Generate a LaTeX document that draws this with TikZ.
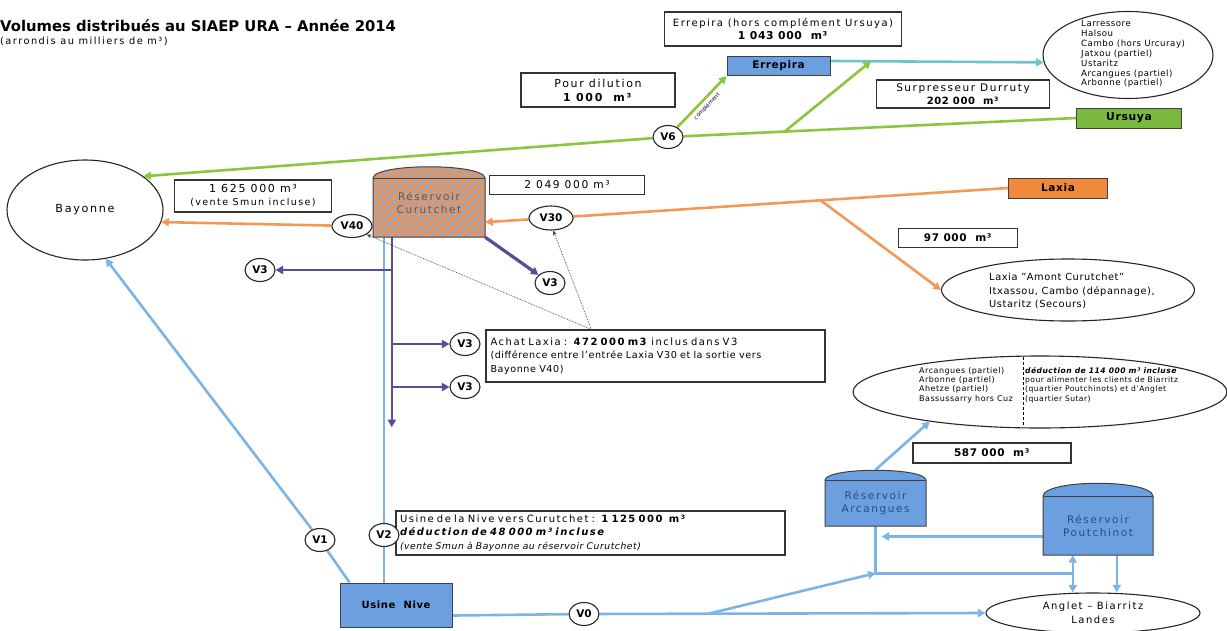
\documentclass[tikz,border=0pt]{standalone}
\usepackage{fontspec}
\setmainfont{DejaVu Sans}[LetterSpace=6]
\newfontfamily\titlefont{DejaVu Sans}
\newfontfamily\wide{DejaVu Sans}[LetterSpace=15]
\usetikzlibrary{shapes.geometric,arrows.meta,backgrounds,calc}
\definecolor{lb}{HTML}{7DB4E6}
\definecolor{fb}{HTML}{6B9FE0}
\definecolor{gr}{HTML}{8CC63F}
\definecolor{grf}{HTML}{7AB840}
\definecolor{tl}{HTML}{70C4C8}
\definecolor{orl}{HTML}{F29A55}
\definecolor{orf}{HTML}{F08A3A}
\definecolor{pu}{HTML}{5B4B9E}
\definecolor{hor}{HTML}{EC9458}
\definecolor{hbl}{HTML}{94A9C6}
\definecolor{rtxt}{HTML}{2F4A7A}
\begin{document}
\begin{tikzpicture}[x=1pt,y=-1pt,
  tip/.style={-{Triangle[length=7.5pt,width=8pt]}},
  conn/.style={line width=2.6pt},
  gconn/.style={conn,draw=gr},
  tconn/.style={conn,draw=tl},
  oconn/.style={conn,draw=orl},
  bconn/.style={conn,draw=lb},
  pconn/.style={conn,draw=pu},
  dotconn/.style={densely dotted,line width=0.7pt,draw=black!75,-{Stealth[length=5pt,width=4pt]}},
  lbox/.style={draw=black!80,line width=1.1pt,fill=white,align=center,inner sep=1pt},
  fnode/.style={draw=black!75,line width=1pt,inner sep=0pt,minimum height=19pt},
  ell/.style={ellipse,draw=black!85,line width=1.1pt,fill=white,inner sep=0pt},
  vtag/.style={ellipse,draw=black!85,line width=1.1pt,fill=white,inner sep=0pt,minimum width=30pt,minimum height=23pt,font=\titlefont\bfseries\fontsize{10.5}{12}\selectfont},
  tank/.style={draw=black!75,line width=1pt,fill=fb},
  rtext/.style={align=center,text=rtxt,font=\wide\fontsize{10.5}{13}\selectfont}
]
\useasboundingbox (0,0) rectangle (1227,630);
\begin{scope}[on background layer]\fill[white] (0,0) rectangle (1227,630);\end{scope}

% titles
\node[anchor=base west,inner sep=0,font=\titlefont\bfseries\fontsize{14.8}{17}\selectfont] (title) at (0,31) {Volumes distribués au SIAEP URA – Année 2014};
\node[anchor=base west,inner sep=0,font=\wide\fontsize{9.8}{11}\selectfont] (subtitle) at (0,44) {(arrondis au milliers de m³)};

% label boxes
\node[lbox,minimum width=237pt,minimum height=34pt,font=\fontsize{10}{13}\selectfont] (errlab) at (783,29) {{\wide Errepira (hors complément Ursuya)}\\{\fontsize{10.8}{13}\selectfont\textbf{1 043 000~~m³}}};
\node[lbox,minimum width=154pt,minimum height=34pt,font=\wide\fontsize{11}{14}\selectfont] (dilution) at (598,90) {Pour dilution\\\textbf{1 000~~m³}};
\node[lbox,minimum width=173pt,minimum height=28pt,font=\wide\fontsize{10.5}{12.5}\selectfont] (durruty) at (963,94) {Surpresseur Durruty\\{\normalfont\fontsize{10}{12}\selectfont\textbf{202 000~~m³}}};
\node[lbox,minimum width=157pt,minimum height=32pt,font=\wide\fontsize{11}{13}\selectfont] (baylab) at (253,196) {1 625 000 m³\\{\fontsize{9.5}{11}\selectfont(vente Smun incluse)}};
\node[lbox,minimum width=155pt,minimum height=19pt,font=\wide\fontsize{10.7}{12}\selectfont] (curlab) at (567,185) {2 049 000 m³};
\node[lbox,minimum width=119pt,minimum height=19pt,font=\fontsize{10.5}{12}\selectfont] (laxlab) at (958,238) {\textbf{97 000~~m³}};
\node[lbox,minimum width=158pt,minimum height=20pt,font=\fontsize{10.5}{12}\selectfont] (arclab) at (992,453) {\textbf{587 000~~m³}};
\node[lbox,minimum width=339pt,minimum height=52pt,text width=330pt,align=left,font=\fontsize{9.6}{13.5}\selectfont] (achat) at (655.5,356) {{\wide\fontsize{10}{13.5}\selectfont Achat Laxia : \textbf{472 000 m3} inclus dans V3}\\(différence entre l’entrée Laxia V30 et la sortie vers\\Bayonne V40)};
\node[lbox,minimum width=389pt,minimum height=44pt,text width=381pt,align=left,font=\fontsize{9.6}{13.2}\selectfont] (usinelab) at (590.5,533) {{\wide\fontsize{10}{13.2}\selectfont Usine de la Nive vers Curutchet : \textbf{1 125 000~~m³}}\\{\wide\fontsize{10}{13.2}\selectfont\textbf{\textit{déduction de 48 000 m³ incluse}}}\\{\fontsize{9.2}{11}\selectfont\textit{(vente Smun à Bayonne au réservoir Curutchet)}}};

% filled nodes
\node[fnode,fill=fb,minimum width=103pt,font=\bfseries\fontsize{10.5}{12}\selectfont] (errepira) at (778.5,66) {Errepira};
\node[fnode,fill=grf,minimum width=105pt,minimum height=20pt,font=\bfseries\fontsize{10.8}{12}\selectfont] (ursuya) at (1129,118) {Ursuya};
\node[fnode,fill=orf,minimum width=99pt,minimum height=20pt,font=\bfseries\fontsize{10.5}{12}\selectfont] (laxia) at (1058,188) {Laxia};
\node[fnode,fill=fb,minimum width=112pt,minimum height=44pt,font=\bfseries\fontsize{10}{12}\selectfont] (usine) at (396,605) {Usine~~Nive};

% reservoir Curutchet (hatched)
\begin{scope}
  \clip (373,237) -- (373,178) .. controls (375,163) and (483,163) .. (485,178) -- (485,237) -- cycle;
  \fill[hor] (365,155) rectangle (495,245);
  \foreach \i in {0,...,30} \draw[hbl,line width=2.3pt] (260+\i*9,245) -- ++(95,-95);
\end{scope}
\draw[line width=1pt,draw=black!75] (373,237) -- (373,178) .. controls (375,163) and (483,163) .. (485,178) -- (485,237) -- cycle;
\draw[line width=1pt,draw=black!75] (373,178) -- (485,178);
\node[minimum width=112pt,minimum height=59pt,inner sep=0] (cur) at (429,207.5) {};
\node[align=center,text=black!65,font=\wide\fontsize{10.5}{13}\selectfont] (curtxt) at (429,203) {Réservoir\\Curutchet};

% reservoir Arcangues
\draw[tank] (825,526) -- (825,480) .. controls (827,467) and (924,467) .. (926,480) -- (926,526) -- cycle;
\draw[line width=1pt,draw=black!75] (825,480) -- (926,480);
\node[minimum width=101pt,minimum height=46pt,inner sep=0,rtext] (arcang) at (875.5,503) {Réservoir\\Arcangues};
% reservoir Poutchinot
\draw[tank] (1043,555) -- (1043,496) .. controls (1045,479) and (1151,479) .. (1153,496) -- (1153,555) -- cycle;
\draw[line width=1pt,draw=black!75] (1043,496) -- (1153,496);
\node[minimum width=110pt,minimum height=59pt,inner sep=0,rtext] (pout) at (1098,525.5) {Réservoir\\Poutchinot};

% ellipses
\node[ell,minimum width=170pt,minimum height=87pt] (topr) at (1128,55) {};
\node[anchor=west,inner sep=0,align=left,font=\fontsize{8.6}{9.9}\selectfont] (toprtxt) at (1081,54) {Larressore\\Halsou\\Cambo (hors Urcuray)\\Jatxou (partiel)\\Ustaritz\\Arcangues (partiel)\\Arbonne (partiel)};
\node[ell,minimum width=156pt,minimum height=100pt,font=\wide\fontsize{11.2}{13}\selectfont] (bay) at (85,210) {Bayonne};
\node[ell,minimum width=253pt,minimum height=62pt] (laxam) at (1068,290) {};
\node[anchor=west,inner sep=0,align=left,font=\fontsize{9.8}{13.5}\selectfont] (laxamtxt) at (989,291) {Laxia "Amont Curutchet"\\Itxassou, Cambo (dépannage),\\Ustaritz (Secours)};
\node[ell,minimum width=374pt,minimum height=72pt] (ur) at (1040,392) {};
\draw[densely dashed,line width=0.7pt] ($(ur.north)+(-17,2)$) -- ($(ur.south)+(-17,-2)$);
\node[anchor=north west,inner sep=0,align=left,font=\fontsize{8}{9.3}\selectfont] (urleft) at (919,367) {Arcangues (partiel)\\Arbonne (partiel)\\Ahetze (partiel)\\Bassussarry hors Cuz};
\node[anchor=north west,inner sep=0,align=left,font=\fontsize{7.6}{9.3}\selectfont] (urright) at (1025,367) {\textbf{\textit{déduction de 114 000 m³ incluse}}\\pour alimenter les clients de Biarritz\\(quartier Poutchinots) et d’Anglet\\(quartier Sutar)};
\node[ell,minimum width=214pt,minimum height=40pt,align=center,font=\wide\fontsize{10}{13.5}\selectfont] (anglet) at (1093,613) {Anglet – Biarritz\\Landes};

% V tags
\node[vtag] (v6) at (668,137) {V6};
\node[vtag,minimum width=40pt] (v40) at (352,226) {V40};
\node[vtag,minimum width=44pt,minimum height=24pt] (v30) at (551,218) {V30};
\node[vtag] (v3a) at (260,270) {V3};
\node[vtag] (v3b) at (550,283) {V3};
\node[vtag] (v3c) at (465,344) {V3};
\node[vtag] (v3d) at (465,387) {V3};
\node[vtag] (v1) at (320,540) {V1};
\node[vtag] (v2) at (384,535) {V2};
\node[vtag] (v0) at (584,614) {V0};

% junction coordinates
\coordinate (gj) at ($(ursuya.west)!0.714!(v6)$);
\coordinate (tstart) at ($(errepira.east)+(0,-5)$);
\coordinate (tj) at ($(tstart)!0.19!(topr.185)$);
\coordinate (oj) at ($(laxia.west)!0.41!(v30)$);
\coordinate (curin) at ($(cur.south east)+(0,-15)$);
\coordinate (ptop) at ($(cur.south west)+(19,0)$);
\coordinate (pbot) at ($(ptop)+(0,190)$);
\coordinate (dp) at ($(achat.north west)+(106,0)$);
\coordinate (v1start) at ($(usine.north west)+(10,0)$);
\coordinate (v0start) at ($(usine.south east)+(0,-12)$);
\coordinate (bj) at ($(v0)!0.31!(anglet.west)$);
\coordinate (acor) at ($(arcang.south)+(0,47)$);
\coordinate (adome) at ($(arcang.north)+(0,-10)$);
\coordinate (pdtop) at ($(pout.south west)+(30,0)$);
\coordinate (pstop) at ($(pout.south west)+(74,0)$);
\coordinate (pw) at ($(pout.west)+(0,11)$);

\begin{scope}[on background layer]
  % green / teal
  \draw[tconn,tip] (tstart) -- (topr.185);
  \draw[gconn,tip] (ursuya.west) -- (v6) -- (bay.30);
  \draw[gconn,tip] (gj) -- (tj);
  \draw[gconn,tip] (v6) -- (errepira.south west) node[pos=0.5,below,sloped,font=\titlefont\fontsize{5.5}{6}\selectfont,inner sep=3pt] (compl) {complément};
  % orange
  \draw[oconn,tip] (laxia.west) -- (v30) -- (curin);
  \draw[oconn,tip] (oj) -- (laxam.west);
  \draw[oconn,tip] (v40) -- (bay.-9);
  % blue
  \draw[bconn,tip] (v1start) -- (v1) -- (bay.-67);
  \draw[bconn] (usine.north -| v2) -- (v2) -- (v2 |- cur.south);
  \draw[bconn,tip] (v0start) -- (v0) -- (anglet.west);
  \draw[bconn,tip] (bj) -- (acor);
  \draw[bconn] (arcang.south) -- (acor) -- (acor -| pdtop);
  \draw[bconn,{Triangle[length=7.5pt,width=8pt]}-{Triangle[length=7.5pt,width=8pt]}] (pdtop) -- (pdtop |- anglet.north);
  \draw[bconn,tip] (pstop) -- (pstop |- anglet.north);
  \draw[bconn,tip] (pw) -- ($(acor |- pw)+(6,0)$);
  \draw[bconn,tip] (adome) -- (ur.195);
  % purple
  \draw[pconn,tip] (ptop) -- (pbot);
  \draw[pconn,tip] (ptop |- v3a) -- (v3a);
  \draw[pconn,tip] (ptop |- v3c) -- (v3c);
  \draw[pconn,tip] (ptop |- v3d) -- (v3d);
  \draw[pconn,line width=3.2pt,tip] (cur.south east) -- (v3b);
  % dotted
  \draw[dotconn] (dp) -- (v40.south east);
  \draw[dotconn] (dp) -- (v30.-80);
\end{scope}
\end{tikzpicture}
\end{document}
